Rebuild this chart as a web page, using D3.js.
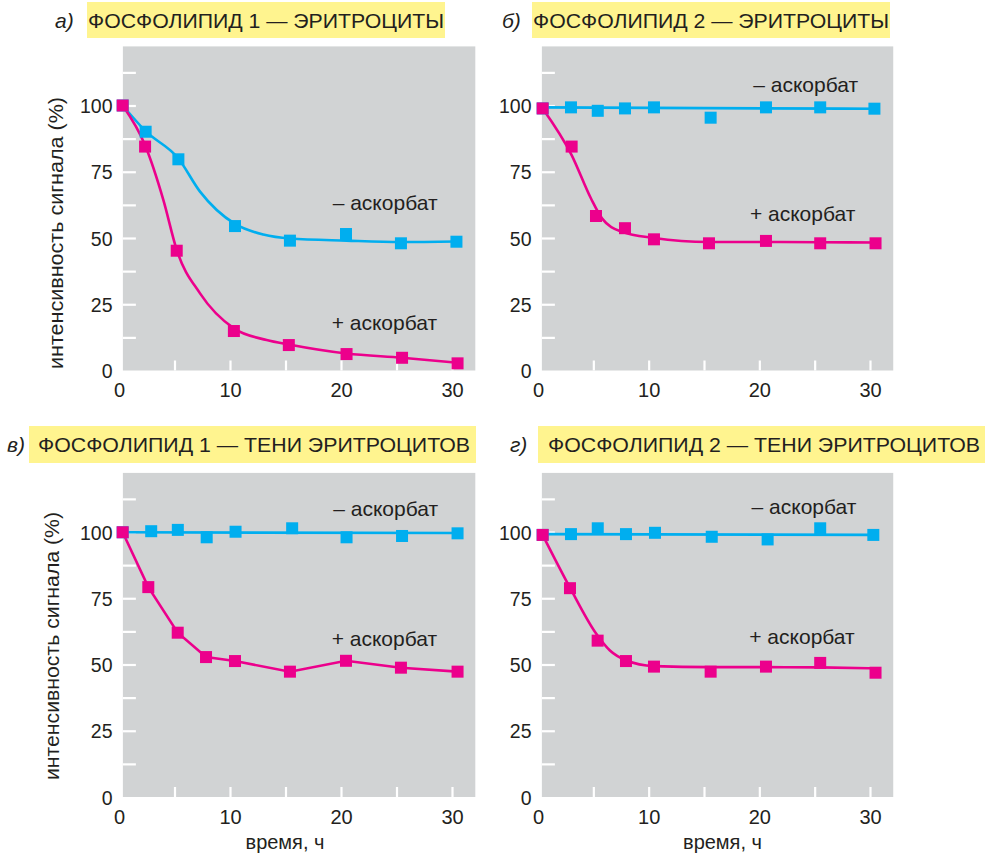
<!DOCTYPE html>
<html>
<head>
<meta charset="utf-8">
<script src="https://cdn.jsdelivr.net/npm/d3@7"></script>
<style>
  body { margin: 0; background: #ffffff; }
  svg text { font-family: "Liberation Sans", Arial, sans-serif; fill: #231f20; }
</style>
</head>
<body>
<svg id="chart" width="989" height="857"></svg>
<script>
// ---- axis ticks ----
const timeLabelTicks = [0, 10, 20, 30];
const timeMarkTicks = [5, 10, 15, 20, 25, 30];
const signalLabelTicks = [0, 25, 50, 75, 100];
const signalMarkTicks = [12.5, 25, 37.5, 50, 62.5, 75, 87.5, 100, 112.5];

// ---- а) фосфолипид 1, эритроциты ----
const aMinusTime  = [0.33, 2.4, 5.35, 10.45, 15.4, 20.45, 25.4, 30.4];
const aMinusValue = [100, 90.1, 79.7, 54.5, 49, 51.5, 48, 48.6];
const aPlusTime   = [0.33, 2.35, 5.2, 10.35, 15.3, 20.5, 25.5, 30.5];
const aPlusValue  = [100, 84.5, 45.2, 14.9, 9.6, 6.2, 4.8, 2.7];
const aMinusFitTime  = [0.33, 2.4, 5.35, 7.3, 10.45, 13, 15.4, 20.5, 25.4, 30.4];
const aMinusFitValue = [100, 90.3, 80, 67.5, 55.3, 51.3, 49.8, 49, 48.5, 48.7];
const aPlusFitTime   = [0.33, 2.35, 4.0, 5.2, 7.3, 10.35, 13.3, 15.3, 20.5, 25.5, 30.5];
const aPlusFitValue  = [100, 85, 64.3, 45.5, 29.1, 15.9, 11.5, 9.8, 6.4, 4.8, 2.9];

// ---- б) фосфолипид 2, эритроциты ----
const bMinusTime  = [0.42, 2.98, 5.4, 7.86, 10.48, 15.6, 20.6, 25.5, 30.4];
const bMinusValue = [98.9, 99.3, 98.0, 98.9, 99.3, 95.4, 99.3, 99.3, 98.8];
const bPlusTime   = [0.42, 3.04, 5.24, 7.86, 10.48, 15.45, 20.6, 25.5, 30.5];
const bPlusValue  = [98.9, 84.5, 58.3, 53.7, 49.5, 48, 48.9, 48, 48];
const bMinusFitTime  = [0.42, 15, 30.4];
const bMinusFitValue = [99.3, 99.0, 98.8];
const bPlusFitTime   = [0.42, 3.04, 4.8, 5.8, 7.6, 10.48, 15.45, 20.6, 25.5, 30.5];
const bPlusFitValue  = [98.9, 81.3, 64.8, 57.3, 52.3, 50, 48.5, 48.5, 48.4, 48.3];

// ---- в) фосфолипид 1, тени эритроцитов ----
const vMinusTime  = [0.33, 2.9, 5.3, 7.9, 10.5, 15.6, 20.5, 25.5, 30.5];
const vMinusValue = [99.9, 100.3, 100.8, 98, 100.1, 101.4, 98, 98.5, 99.5];
const vPlusTime   = [0.33, 2.64, 5.29, 7.84, 10.45, 15.4, 20.45, 25.4, 30.5];
const vPlusValue  = [99.9, 79.2, 62.0, 52.8, 51.3, 47.3, 51.4, 48.8, 47.3];
const vMinusFitTime  = [0.33, 30.5];
const vMinusFitValue = [99.9, 99.6];

// ---- г) фосфолипид 2, тени эритроцитов ----
const gMinusTime  = [0.42, 2.98, 5.4, 7.95, 10.57, 15.7, 20.75, 25.5, 30.3];
const gMinusValue = [98.9, 99.2, 101.4, 99.2, 99.7, 98.2, 97.2, 101.4, 98.9];
const gPlusTime   = [0.42, 2.89, 5.39, 7.95, 10.48, 15.6, 20.6, 25.5, 30.5];
const gPlusValue  = [98.9, 78.8, 59.0, 51.3, 49.2, 47.3, 49.2, 50.6, 46.9];
const gMinusFitTime  = [0.42, 30.3];
const gMinusFitValue = [99.2, 98.9];
const gPlusFitTime   = [0.42, 2.89, 5.2, 6.5, 7.95, 10.48, 15.6, 20.6, 25.5, 30.5];
const gPlusFitValue  = [98.9, 79, 62, 55.3, 51.6, 49.4, 49, 49, 48.9, 48.5];

const minusLabel = "– аскорбат";
const plusLabel = "+ аскорбат";
const yAxisTitle = "интенсивность сигнала (%)";
const xAxisTitle = "время, ч";

// ---- styling / layout ----
const COLORS = { panel: "#d1d3d4", minus: "#00aeef", plus: "#ec008c", title: "#fff48f", tick: "#ffffff" };
const FONT = "'Liberation Sans', Arial, sans-serif";
const columns = [{ left: 119, right: 452 }, { left: 538, right: 870 }];
const rows = [{ bottom: 370.5, top: 105.5 }, { bottom: 797, top: 532 }];
const frame = { tMin: 0.35, tMax: 32.1, vMax: 122.3 };
const MARK = 12;

const zip = (t, v) => t.map((d, i) => ({ t: d, v: v[i] }));

const panels = [
  {
    col: 0, row: 0, letter: "а)", letterX: 55, title: "ФОСФОЛИПИД 1 — ЭРИТРОЦИТЫ",
    box: [87, 2, 358, 36], textX: 88, textLen: 356, baseline: 27.5,
    minus: zip(aMinusTime, aMinusValue), plus: zip(aPlusTime, aPlusValue),
    minusFit: zip(aMinusFitTime, aMinusFitValue), plusFit: zip(aPlusFitTime, aPlusFitValue),
    plusCurve: d3.curveMonotoneX,
    minusAt: [19.25, 60.6], plusAt: [19.16, 15.3],
    yTitle: { x: 63, cy: 233, len: 272 }, xTitleX: null
  },
  {
    col: 1, row: 0, letter: "б)", letterX: 502, title: "ФОСФОЛИПИД 2 — ЭРИТРОЦИТЫ",
    box: [532, 2, 358, 36], textX: 533, textLen: 356, baseline: 27.5,
    minus: zip(bMinusTime, bMinusValue), plus: zip(bPlusTime, bPlusValue),
    minusFit: zip(bMinusFitTime, bMinusFitValue), plusFit: zip(bPlusFitTime, bPlusFitValue),
    plusCurve: d3.curveMonotoneX,
    minusAt: [19.45, 105.0], plusAt: [19.15, 56.5], yTitle: null, xTitleX: null
  },
  {
    col: 0, row: 1, letter: "в)", letterX: 7, title: "ФОСФОЛИПИД 1 — ТЕНИ ЭРИТРОЦИТОВ",
    box: [29, 426, 447, 37], textX: 38, textLen: 432, baseline: 451.5,
    minus: zip(vMinusTime, vMinusValue), plus: zip(vPlusTime, vPlusValue),
    minusFit: zip(vMinusFitTime, vMinusFitValue), plusFit: zip(vPlusTime, vPlusValue),
    plusCurve: d3.curveLinear,
    minusAt: [19.3, 106], plusAt: [19.16, 57],
    yTitle: { x: 59, cy: 646, len: 268 }, xTitleX: 285
  },
  {
    col: 1, row: 1, letter: "г)", letterX: 510, title: "ФОСФОЛИПИД 2 — ТЕНИ ЭРИТРОЦИТОВ",
    box: [538, 426, 447, 37], textX: 548, textLen: 432, baseline: 451.5,
    minus: zip(gMinusTime, gMinusValue), plus: zip(gPlusTime, gPlusValue),
    minusFit: zip(gMinusFitTime, gMinusFitValue), plusFit: zip(gPlusFitTime, gPlusFitValue),
    plusCurve: d3.curveMonotoneX,
    minusAt: [19.3, 106.8], plusAt: [19.09, 57.7], yTitle: null, xTitleX: 722.5
  }
];

const svg = d3.select("#chart");

panels.forEach(p => {
  const c = columns[p.col], r = rows[p.row];
  const x = d3.scaleLinear().domain([0, 30]).range([c.left, c.right]);
  const y = d3.scaleLinear().domain([0, 100]).range([r.bottom, r.top]);
  const g = svg.append("g");

  // heading: italic letter + yellow plate
  g.append("text").attr("x", p.letterX).attr("y", p.baseline)
    .attr("font-size", 21).attr("font-style", "italic").text(p.letter);
  g.append("rect").attr("x", p.box[0]).attr("y", p.box[1])
    .attr("width", p.box[2]).attr("height", p.box[3]).attr("fill", COLORS.title);
  g.append("text").attr("x", p.textX).attr("y", p.baseline)
    .attr("font-size", 21).attr("textLength", p.textLen)
    .attr("lengthAdjust", "spacingAndGlyphs").text(p.title);

  // grey plotting field
  g.append("rect")
    .attr("x", x(frame.tMin)).attr("y", y(frame.vMax))
    .attr("width", x(frame.tMax) - x(frame.tMin))
    .attr("height", y(0) - y(frame.vMax))
    .attr("fill", COLORS.panel);

  // white tick marks inside the field
  const yMarks = g.append("g").attr("transform", `translate(${x(frame.tMin)},0)`)
    .call(d3.axisRight(y).tickValues(signalMarkTicks).tickSize(13).tickFormat(""));
  yMarks.select(".domain").remove();
  yMarks.selectAll("line").attr("stroke", COLORS.tick).attr("stroke-width", 2.2);

  const xMarks = g.append("g").attr("transform", `translate(0,${y(0)})`)
    .call(d3.axisTop(x).tickValues(timeMarkTicks).tickSize(10).tickFormat(""));
  xMarks.select(".domain").remove();
  xMarks.selectAll("line").attr("stroke", COLORS.tick).attr("stroke-width", 2.2);

  // tick labels
  const yLab = g.append("g").attr("transform", `translate(${x(0)},0)`)
    .call(d3.axisLeft(y).tickValues(signalLabelTicks).tickSize(0).tickPadding(6.5));
  yLab.select(".domain").remove();
  yLab.attr("font-size", 19.5).attr("font-family", FONT);
  yLab.selectAll("text").attr("dy", "0.36em");

  const xLab = g.append("g").attr("transform", `translate(0,${y(0)})`)
    .call(d3.axisBottom(x).tickValues(timeLabelTicks).tickSize(0).tickPadding(12.5));
  xLab.select(".domain").remove();
  xLab.attr("font-size", 20).attr("font-family", FONT);

  // axis titles
  if (p.yTitle) {
    g.append("text").attr("transform", `translate(${p.yTitle.x},${p.yTitle.cy}) rotate(-90)`)
      .attr("text-anchor", "middle").attr("font-size", 20.5)
      .attr("textLength", p.yTitle.len).attr("lengthAdjust", "spacingAndGlyphs")
      .text(yAxisTitle);
  }
  if (p.xTitleX !== null) {
    g.append("text").attr("x", p.xTitleX).attr("y", y(0) + 52)
      .attr("text-anchor", "middle").attr("font-size", 20).text(xAxisTitle);
  }

  // fitted curves
  const lineMinus = d3.line().x(d => x(d.t)).y(d => y(d.v)).curve(d3.curveMonotoneX);
  const linePlus = d3.line().x(d => x(d.t)).y(d => y(d.v)).curve(p.plusCurve);
  g.append("path").datum(p.minusFit).attr("d", lineMinus)
    .attr("fill", "none").attr("stroke", COLORS.minus).attr("stroke-width", 2.6);
  g.append("path").datum(p.plusFit).attr("d", linePlus)
    .attr("fill", "none").attr("stroke", COLORS.plus).attr("stroke-width", 2.6);

  // measured points
  g.append("g").selectAll("rect").data(p.minus).join("rect")
    .attr("x", d => x(d.t) - MARK / 2).attr("y", d => y(d.v) - MARK / 2)
    .attr("width", MARK).attr("height", MARK).attr("fill", COLORS.minus);
  g.append("g").selectAll("rect").data(p.plus).join("rect")
    .attr("x", d => x(d.t) - MARK / 2).attr("y", d => y(d.v) - MARK / 2)
    .attr("width", MARK).attr("height", MARK).attr("fill", COLORS.plus);

  // series captions
  g.append("text").attr("x", x(p.minusAt[0])).attr("y", y(p.minusAt[1]))
    .attr("font-size", 21).text(minusLabel);
  g.append("text").attr("x", x(p.plusAt[0])).attr("y", y(p.plusAt[1]))
    .attr("font-size", 21).text(plusLabel);
});
</script>
</body>
</html>
